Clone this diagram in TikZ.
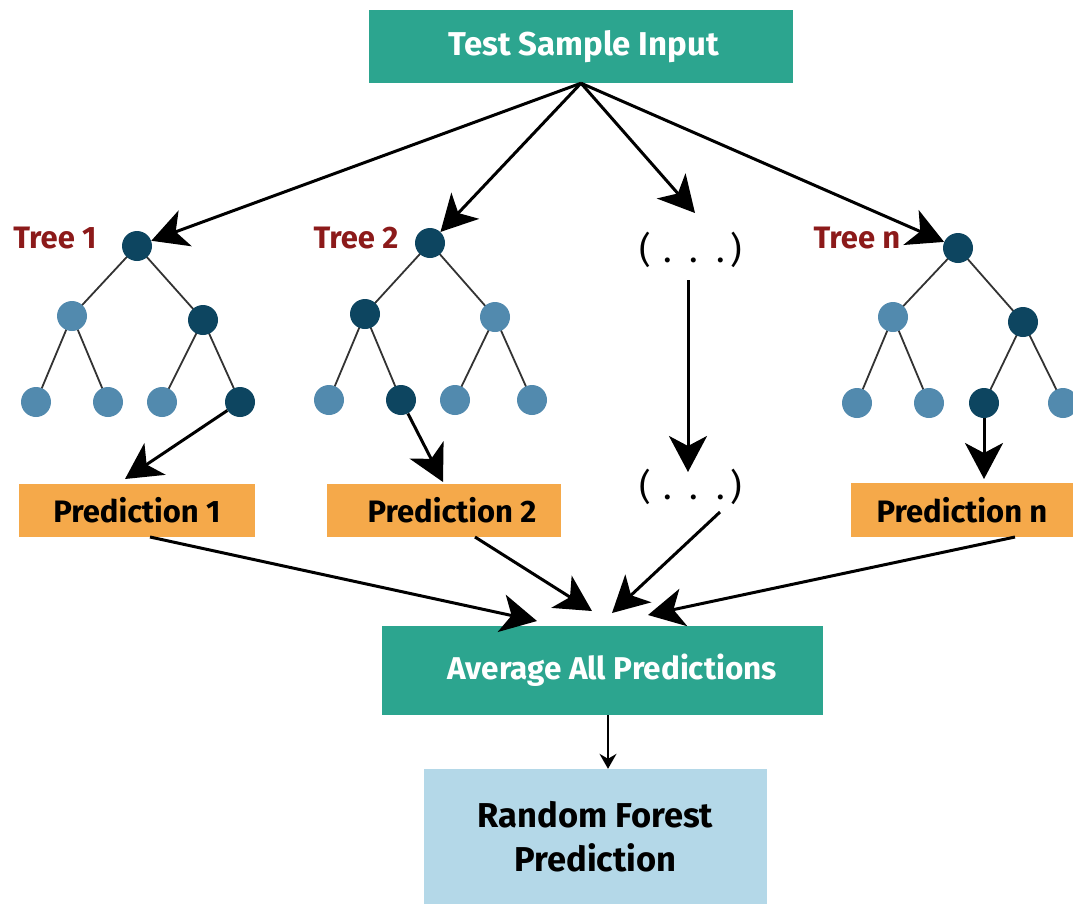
\documentclass[tikz,border=0pt]{standalone}
\usepackage{fontspec}
\setmainfont{Fira Sans}
\usetikzlibrary{arrows.meta,calc}
\definecolor{teal}{RGB}{44,165,143}
\definecolor{orng}{RGB}{245,169,74}
\definecolor{lblue}{RGB}{180,216,232}
\definecolor{dnode}{RGB}{13,69,96}
\definecolor{lnode}{RGB}{82,138,174}
\definecolor{tred}{RGB}{140,26,26}
\begin{document}
\begin{tikzpicture}[x=1pt,y=-1pt,
  greenbox/.style={fill=teal,text=white,inner sep=0pt,font=\fontsize{33}{36}\selectfont\bfseries},
  predbox/.style={fill=orng,text=black,inner sep=0pt,minimum width=236pt,minimum height=53pt,font=\fontsize{31}{34}\selectfont\bfseries},
  dk/.style={circle,fill=dnode,minimum size=30pt,inner sep=0pt},
  lt/.style={circle,fill=lnode,minimum size=30pt,inner sep=0pt},
  tlabel/.style={text=tred,font=\fontsize{31}{34}\selectfont\bfseries},
  dots/.style={font=\fontsize{36}{40}\selectfont},
  edge/.style={draw=black!80,line width=1.8pt},
  big/.style={line width=3pt,-{Stealth[length=36pt,width=38pt,inset=10pt]}},
  small/.style={line width=1.6pt,-{Stealth[length=15pt,width=17pt,inset=5pt]}}]
\useasboundingbox (0,0) rectangle (1073,903);
% boxes
\node[greenbox,minimum width=424pt,minimum height=73pt] (top) at (581,46.5) {\hspace*{5pt}Test Sample Input};
\node[greenbox,minimum width=441pt,minimum height=89pt,font=\fontsize{31.5}{34}\selectfont\bfseries] (avg) at (602.5,670.5) {\hspace*{19pt}Average All Predictions};
\node[fill=lblue,inner sep=0pt,minimum width=343pt,minimum height=136pt,align=center,font=\fontsize{34.5}{44}\selectfont\bfseries] (rf) at (595.5,837) {Random Forest\\Prediction};
\node[predbox] (p1) at (137,510.5) {Prediction 1};
\node[predbox,minimum width=234pt] (p2) at (444,510.5) {\hspace*{16pt}Prediction 2};
\node[predbox,minimum width=222pt,minimum height=54pt] (pn) at (962,510) {Prediction n};
% tree edge coordinates (node centres)
\coordinate (a0) at (137,246); \coordinate (a1) at (72,316); \coordinate (a2) at (203,320);
\coordinate (a3) at (36,402); \coordinate (a4) at (108,402); \coordinate (a5) at (162,402); \coordinate (a6) at (240,402);
\coordinate (b0) at (430,243); \coordinate (b1) at (365,314); \coordinate (b2) at (495,317);
\coordinate (b3) at (329,400); \coordinate (b4) at (401,400); \coordinate (b5) at (455,400); \coordinate (b6) at (532,400);
\coordinate (c0) at (958,248); \coordinate (c1) at (893,317); \coordinate (c2) at (1023,322);
\coordinate (c3) at (857,403); \coordinate (c4) at (929,403); \coordinate (c5) at (984,403); \coordinate (c6) at (1063,403);
\foreach \t in {a,b,c}{
  \draw[edge] (\t0) -- (\t1) (\t0) -- (\t2)
    (\t1) -- (\t3) (\t1) -- (\t4)
    (\t2) -- (\t5) (\t2) -- (\t6);
}
% tree nodes
\node[dk] (A0) at (a0) {}; \node[lt] (A1) at (a1) {}; \node[dk] (A2) at (a2) {};
\node[lt] (A3) at (a3) {}; \node[lt] (A4) at (a4) {}; \node[lt] (A5) at (a5) {}; \node[dk] (A6) at (a6) {};
\node[dk] (B0) at (b0) {}; \node[dk] (B1) at (b1) {}; \node[lt] (B2) at (b2) {};
\node[lt] (B3) at (b3) {}; \node[dk] (B4) at (b4) {}; \node[lt] (B5) at (b5) {}; \node[lt] (B6) at (b6) {};
\node[dk] (C0) at (c0) {}; \node[lt] (C1) at (c1) {}; \node[dk] (C2) at (c2) {};
\node[lt] (C3) at (c3) {}; \node[lt] (C4) at (c4) {}; \node[dk] (C5) at (c5) {}; \node[lt] (C6) at (c6) {};
\node[tlabel] (la) at (55,238) {Tree 1};
\node[tlabel] (lb) at (356,238) {Tree 2};
\node[tlabel] (lc) at (857,238) {Tree n};
% dots
\node[dots] (d1) at (691,250) {(\,\,.\,\,\,.\,\,\,.\,)};
\node[dots] (d2) at (691,487) {(\,\,.\,\,\,.\,\,\,.\,)};
% coordinates
\coordinate (q1) at (125,479);
\coordinate (q2) at (443,482);
\coordinate (q3) at (984,479);
\coordinate (s1) at (150,537);
\coordinate (s2) at (475,537);
\coordinate (s3) at (720,512);
\coordinate (s4) at (1015,537);
\coordinate (e1) at (537,621);
\coordinate (e2) at (592,611);
\coordinate (e3) at (612,613);
\coordinate (e4) at (648,615);
\coordinate (d1t) at (695,213);
\coordinate (d1b) at (688,280);
\coordinate (d2t) at (688,472);
\coordinate (v) at (608,0);
% arrows
\draw[big] (top.south) -- (A0);
\draw[big] (top.south) -- (B0);
\draw[big] (top.south) -- (d1t);
\draw[big] (top.south) -- (C0);
\draw[big] (d1b) -- (d2t);
\draw[big] (A6) -- (q1);
\draw[big] (B4) -- (q2);
\draw[big] (C5) -- (q3);
\draw[big] (s1) -- (e1);
\draw[big] (s2) -- (e2);
\draw[big] (s3) -- (e3);
\draw[big] (s4) -- (e4);
\draw[small] (avg.south -| v) -- (rf.north -| v);
\end{tikzpicture}
\end{document}
